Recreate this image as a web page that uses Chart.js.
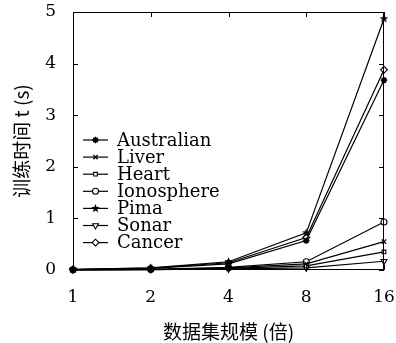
<!DOCTYPE html>
<html><head><meta charset="utf-8">
<script src="https://cdn.jsdelivr.net/npm/chart.js@4.4.1/dist/chart.umd.min.js"></script>
<style>html,body{margin:0;padding:0;background:#fff}#wrap{width:396px;height:343px}</style>
</head><body><div id="wrap"><canvas id="c"></canvas></div>
<script>
const categories = ['1', '2', '4', '8', '16'];
const seriesNames = ['Australian', 'Liver', 'Heart', 'Ionosphere', 'Pima', 'Sonar', 'Cancer'];
const australian = [0.01, 0.03, 0.12, 0.57, 3.68];
const liver = [0.005, 0.01, 0.04, 0.12, 0.55];
const heart = [0.004, 0.008, 0.03, 0.08, 0.35];
const ionosphere = [0.005, 0.012, 0.05, 0.16, 0.93];
const pima = [0.012, 0.04, 0.16, 0.72, 4.87];
const sonar = [0.003, 0.006, 0.02, 0.04, 0.17];
const cancer = [0.01, 0.035, 0.14, 0.63, 3.88];
const yTicks = [0, 1, 2, 3, 4, 5];

const LATIN = '"DejaVu Serif", serif';
const CJK = '"Noto Sans CJK SC", sans-serif';

function starCanvas(r) {
  const s = Math.ceil(r * 2 + 2);
  const cv = document.createElement('canvas');
  cv.width = s; cv.height = s;
  const g = cv.getContext('2d');
  g.fillStyle = '#000';
  g.beginPath();
  for (let i = 0; i < 10; i++) {
    const a = -Math.PI / 2 + i * Math.PI / 5;
    const rr = i % 2 === 0 ? r : r * 0.42;
    const px = s / 2 + rr * Math.cos(a), py = s / 2 + rr * Math.sin(a);
    if (i === 0) g.moveTo(px, py); else g.lineTo(px, py);
  }
  g.closePath(); g.fill();
  return cv;
}

const values = [australian, liver, heart, ionosphere, pima, sonar, cancer];
const styles = [
  {pointStyle: 'star', radius: 3.2, rotation: 0, fill: '#000', bw: 1.6},
  {pointStyle: 'crossRot', radius: 3, rotation: 0, fill: '#000', bw: 1.2},
  {pointStyle: 'rect', radius: 2.6, rotation: 0, fill: '#fff', bw: 1.1},
  {pointStyle: 'circle', radius: 3, rotation: 0, fill: '#fff', bw: 1.1},
  {pointStyle: starCanvas(4.5), radius: 4.5, rotation: 0, fill: '#000', bw: 1},
  {pointStyle: 'triangle', radius: 3.4, rotation: 180, fill: '#fff', bw: 1.1},
  {pointStyle: 'rectRot', radius: 3.4, rotation: 0, fill: '#fff', bw: 1.1}
];

const datasets = seriesNames.map((n, i) => ({
  label: n,
  data: values[i],
  borderColor: '#000',
  borderWidth: 1.2,
  backgroundColor: styles[i].fill,
  pointStyle: styles[i].pointStyle,
  pointRadius: styles[i].radius,
  pointRotation: styles[i].rotation,
  pointBorderColor: '#000',
  pointBorderWidth: styles[i].bw,
  pointBackgroundColor: styles[i].fill,
  tension: 0,
  fill: false,
  clip: false
}));

const boxPlugin = {
  id: 'box',
  afterDraw(chart) {
    const {ctx, chartArea: a, scales} = chart;
    ctx.save();
    ctx.strokeStyle = '#000';
    ctx.lineWidth = 1;
    ctx.strokeRect(a.left + 0.5, a.top + 0.5, a.right - a.left - 1, a.bottom - a.top - 1);
    const L = 5;
    ctx.beginPath();
    categories.forEach((c, i) => {
      const x = Math.round(scales.x.getPixelForValue(i)) + 0.5;
      ctx.moveTo(x, a.bottom); ctx.lineTo(x, a.bottom - L);
      ctx.moveTo(x, a.top); ctx.lineTo(x, a.top + L);
    });
    yTicks.forEach(v => {
      const y = Math.round(scales.y.getPixelForValue(v)) + 0.5;
      ctx.moveTo(a.left, y); ctx.lineTo(a.left + L, y);
      ctx.moveTo(a.right, y); ctx.lineTo(a.right - L, y);
    });
    ctx.stroke();
    // legend
    const lx = a.left + 10, tx = a.left + 44, ly0 = a.top + 128, dy = 17.1;
    ctx.font = '18px ' + LATIN;
    ctx.textBaseline = 'middle';
    ctx.fillStyle = '#000';
    chart.data.datasets.forEach((ds, i) => {
      const y = ly0 + i * dy;
      ctx.beginPath();
      ctx.lineWidth = 1.2;
      ctx.moveTo(lx, y); ctx.lineTo(lx + 25, y);
      ctx.stroke();
      ctx.fillStyle = ds.pointBackgroundColor;
      ctx.strokeStyle = '#000';
      ctx.lineWidth = ds.pointBorderWidth;
      Chart.helpers.drawPoint(ctx, {pointStyle: ds.pointStyle, radius: ds.pointRadius, rotation: ds.pointRotation, borderWidth: ds.pointBorderWidth}, lx + 12.5, y);
      ctx.fillStyle = '#000';
      ctx.fillText(ds.label, tx, y + 1);
    });
    ctx.restore();
  }
};

new Chart(document.getElementById('c'), {
  type: 'line',
  data: {labels: categories, datasets},
  plugins: [boxPlugin],
  options: {
    responsive: true,
    maintainAspectRatio: false,
    animation: false,
    layout: {padding: {left: 0, top: 12, right: 12, bottom: 0}},
    plugins: {legend: {display: false}, tooltip: {enabled: false}},
    scales: {
      x: {
        type: 'category',
        offset: false,
        grid: {display: false, drawTicks: false},
        border: {display: false},
        ticks: {color: '#000', font: {family: LATIN, size: 17}, padding: 17, maxRotation: 0},
        title: {display: true, text: '数据集规模 (倍)', color: '#000', font: {family: CJK, size: 19}, padding: {top: 2, bottom: 0}},
        afterFit(s) { s.height = 73; s.paddingLeft = 0; s.paddingRight = 0; }
      },
      y: {
        min: 0, max: 5,
        afterBuildTicks(s) { s.ticks = yTicks.map(v => ({value: v})); },
        grid: {display: false, drawTicks: false},
        border: {display: false},
        ticks: {color: '#000', font: {family: LATIN, size: 17}, padding: 17},
        title: {display: true, text: '训练时间 t (s)', color: '#000', font: {family: CJK, size: 19}, padding: {top: 10, bottom: 4}},
        afterFit(s) { s.width = 73; s.paddingTop = 0; s.paddingBottom = 0; }
      }
    }
  }
});
</script></body></html>
